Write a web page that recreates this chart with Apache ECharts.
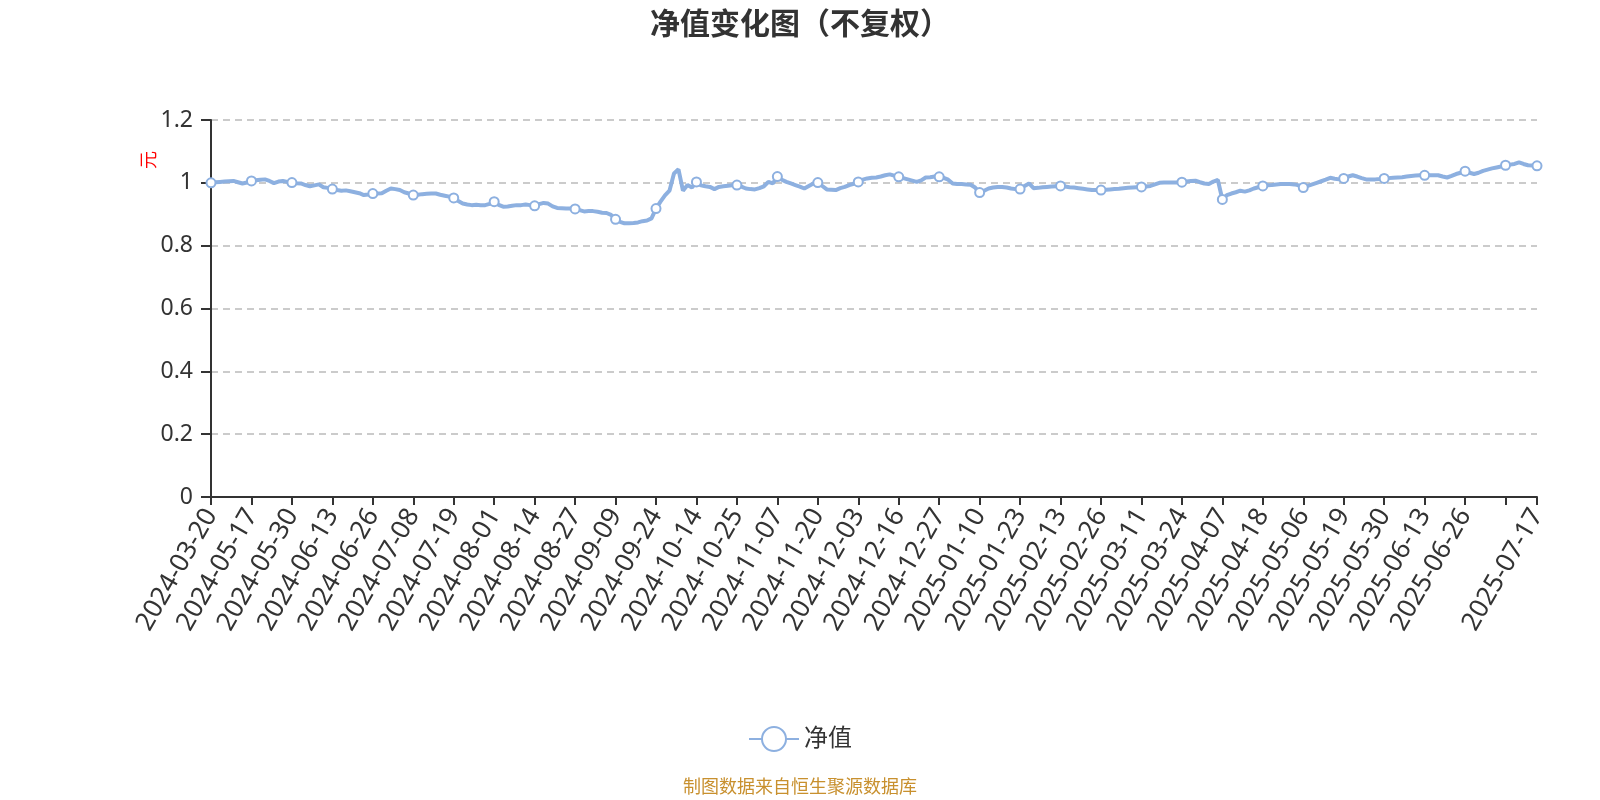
<!DOCTYPE html>
<html><head><meta charset="utf-8">
<script src="https://cdn.jsdelivr.net/npm/echarts@6/dist/echarts.min.js"></script>
<style>html,body{margin:0;padding:0;background:#fff}#c{width:1600px;height:800px}</style>
</head><body><div id="c"></div>
<script>
const dates = [
"2024-03-20","2024-03-29","2024-04-03","2024-04-12","2024-04-19","2024-04-26","2024-04-30","2024-05-10","2024-05-16",
"2024-05-17","2024-05-20","2024-05-21","2024-05-22","2024-05-23","2024-05-24","2024-05-27","2024-05-28","2024-05-29",
"2024-05-30","2024-05-31","2024-06-03","2024-06-04","2024-06-05","2024-06-06","2024-06-07","2024-06-11","2024-06-12",
"2024-06-13","2024-06-14","2024-06-17","2024-06-18","2024-06-19","2024-06-20","2024-06-21","2024-06-24","2024-06-25",
"2024-06-26","2024-06-27","2024-06-28","2024-06-30","2024-07-01","2024-07-02","2024-07-03","2024-07-04","2024-07-05",
"2024-07-08","2024-07-09","2024-07-10","2024-07-11","2024-07-12","2024-07-15","2024-07-16","2024-07-17","2024-07-18",
"2024-07-19","2024-07-22","2024-07-23","2024-07-24","2024-07-25","2024-07-26","2024-07-29","2024-07-30","2024-07-31",
"2024-08-01","2024-08-02","2024-08-05","2024-08-06","2024-08-07","2024-08-08","2024-08-09","2024-08-12","2024-08-13",
"2024-08-14","2024-08-15","2024-08-16","2024-08-19","2024-08-20","2024-08-21","2024-08-22","2024-08-23","2024-08-26",
"2024-08-27","2024-08-28","2024-08-29","2024-08-30","2024-09-02","2024-09-03","2024-09-04","2024-09-05","2024-09-06",
"2024-09-09","2024-09-10","2024-09-11","2024-09-12","2024-09-13","2024-09-18","2024-09-19","2024-09-20","2024-09-23",
"2024-09-24","2024-09-25","2024-09-26","2024-09-27","2024-09-30","2024-10-08","2024-10-09","2024-10-10","2024-10-11",
"2024-10-14","2024-10-15","2024-10-16","2024-10-17","2024-10-18","2024-10-21","2024-10-22","2024-10-23","2024-10-24",
"2024-10-25","2024-10-28","2024-10-29","2024-10-30","2024-10-31","2024-11-01","2024-11-04","2024-11-05","2024-11-06",
"2024-11-07","2024-11-08","2024-11-11","2024-11-12","2024-11-13","2024-11-14","2024-11-15","2024-11-18","2024-11-19",
"2024-11-20","2024-11-21","2024-11-22","2024-11-25","2024-11-26","2024-11-27","2024-11-28","2024-11-29","2024-12-02",
"2024-12-03","2024-12-04","2024-12-05","2024-12-06","2024-12-09","2024-12-10","2024-12-11","2024-12-12","2024-12-13",
"2024-12-16","2024-12-17","2024-12-18","2024-12-19","2024-12-20","2024-12-23","2024-12-24","2024-12-25","2024-12-26",
"2024-12-27","2024-12-30","2024-12-31","2025-01-02","2025-01-03","2025-01-06","2025-01-07","2025-01-08","2025-01-09",
"2025-01-10","2025-01-13","2025-01-14","2025-01-15","2025-01-16","2025-01-17","2025-01-20","2025-01-21","2025-01-22",
"2025-01-23","2025-01-24","2025-01-27","2025-02-05","2025-02-06","2025-02-07","2025-02-10","2025-02-11","2025-02-12",
"2025-02-13","2025-02-14","2025-02-17","2025-02-18","2025-02-19","2025-02-20","2025-02-21","2025-02-24","2025-02-25",
"2025-02-26","2025-02-27","2025-02-28","2025-03-03","2025-03-04","2025-03-05","2025-03-06","2025-03-07","2025-03-10",
"2025-03-11","2025-03-12","2025-03-13","2025-03-14","2025-03-17","2025-03-18","2025-03-19","2025-03-20","2025-03-21",
"2025-03-24","2025-03-25","2025-03-26","2025-03-27","2025-03-28","2025-03-31","2025-04-01","2025-04-02","2025-04-03",
"2025-04-07","2025-04-08","2025-04-09","2025-04-10","2025-04-11","2025-04-14","2025-04-15","2025-04-16","2025-04-17",
"2025-04-18","2025-04-21","2025-04-22","2025-04-23","2025-04-24","2025-04-25","2025-04-28","2025-04-29","2025-04-30",
"2025-05-06","2025-05-07","2025-05-08","2025-05-09","2025-05-12","2025-05-13","2025-05-14","2025-05-15","2025-05-16",
"2025-05-19","2025-05-20","2025-05-21","2025-05-22","2025-05-23","2025-05-26","2025-05-27","2025-05-28","2025-05-29",
"2025-05-30","2025-06-03","2025-06-04","2025-06-05","2025-06-06","2025-06-09","2025-06-10","2025-06-11","2025-06-12",
"2025-06-13","2025-06-16","2025-06-17","2025-06-18","2025-06-19","2025-06-20","2025-06-23","2025-06-24","2025-06-25",
"2025-06-26","2025-06-27","2025-06-28","2025-06-30","2025-07-01","2025-07-02","2025-07-03","2025-07-04","2025-07-07",
"2025-07-08","2025-07-09","2025-07-10","2025-07-11","2025-07-14","2025-07-15","2025-07-16","2025-07-17"
];

const navValues = [
1.000,1.002,1.003,1.004,1.005,1.006,1.002,0.998,1.001,
1.006,1.008,1.010,1.011,1.006,0.999,1.004,1.006,1.003,
1.001,0.999,0.998,0.993,0.989,0.992,0.995,0.986,0.984,
0.980,0.977,0.975,0.976,0.973,0.970,0.967,0.961,0.963,
0.966,0.966,0.967,0.975,0.982,0.980,0.977,0.970,0.966,
0.961,0.962,0.964,0.965,0.966,0.966,0.962,0.959,0.956,
0.952,0.942,0.934,0.931,0.929,0.930,0.929,0.929,0.933,
0.940,0.930,0.924,0.925,0.927,0.929,0.929,0.931,0.929,
0.927,0.932,0.936,0.934,0.925,0.920,0.919,0.918,0.918,
0.917,0.913,0.909,0.910,0.910,0.908,0.905,0.904,0.898,
0.884,0.876,0.871,0.871,0.872,0.874,0.878,0.880,0.887,
0.918,0.940,0.960,0.975,1.030,1.043,0.975,0.993,0.985,
1.003,0.992,0.989,0.987,0.980,0.987,0.989,0.991,0.992,
0.993,0.988,0.982,0.980,0.979,0.983,0.989,1.003,0.998,
1.020,1.010,1.003,0.998,0.993,0.988,0.982,0.990,0.998,
1.001,0.990,0.979,0.978,0.977,0.983,0.987,0.993,0.997,
1.003,1.010,1.014,1.016,1.017,1.020,1.024,1.027,1.023,
1.019,1.015,1.011,1.007,1.003,1.008,1.017,1.018,1.020,
1.019,1.016,1.010,0.998,0.996,0.996,0.995,0.994,0.985,
0.969,0.975,0.982,0.985,0.987,0.987,0.985,0.982,0.980,
0.980,0.990,0.998,0.983,0.984,0.986,0.987,0.988,0.989,
0.990,0.988,0.986,0.985,0.983,0.981,0.979,0.977,0.977,
0.977,0.978,0.979,0.980,0.981,0.983,0.984,0.985,0.986,
0.987,0.988,0.990,0.995,1.000,1.001,1.001,1.001,1.001,
1.002,1.004,1.006,1.007,1.002,0.998,0.996,1.004,1.009,
0.947,0.961,0.966,0.970,0.975,0.972,0.976,0.982,0.986,
0.990,0.992,0.993,0.995,0.996,0.996,0.996,0.995,0.992,
0.985,0.990,0.995,1.000,1.005,1.010,1.016,1.013,1.011,
1.014,1.020,1.024,1.020,1.015,1.011,1.011,1.011,1.012,
1.014,1.015,1.016,1.017,1.018,1.020,1.022,1.023,1.024,
1.024,1.024,1.024,1.024,1.020,1.017,1.022,1.028,1.032,
1.037,1.032,1.028,1.032,1.038,1.042,1.046,1.049,1.052,
1.056,1.058,1.060,1.065,1.060,1.056,1.055,1.054
];

const seriesName = '净值';
const titleText = '净值变化图（不复权）';
const sourceText = '制图数据来自恒生聚源数据库';
const unitText = '元';

const FONT = '"Noto Sans", "Noto Sans CJK SC", sans-serif';
const LINE = '#8DB0E0';
const LABEL_STEP = 9;
const lastIdx = dates.length - 1;
const hiddenIdx = Math.floor(lastIdx / LABEL_STEP) * LABEL_STEP;

const chart = echarts.init(document.getElementById('c'), null, {renderer: 'canvas'});
chart.setOption({
  animation: false,
  backgroundColor: '#fff',
  textStyle: {fontFamily: FONT},
  title: [
    {text: titleText, left: 'center', top: 5,
     textStyle: {fontSize: 30, fontWeight: 'bold', color: '#333', fontFamily: FONT}},
    {text: sourceText, left: 'center', top: 774,
     textStyle: {fontSize: 18, fontWeight: 'normal', color: '#C8902E', fontFamily: FONT}}
  ],
  legend: {
    data: [seriesName], left: 'center', top: 721,
    itemWidth: 50, itemHeight: 30,
    textStyle: {fontSize: 24, color: '#333', fontFamily: FONT}
  },
  grid: {left: 211, right: 63, top: 120, bottom: 303},
  xAxis: {
    type: 'category', data: dates, boundaryGap: false,
    axisLine: {lineStyle: {color: '#333', width: 2}},
    axisTick: {interval: LABEL_STEP - 1, length: 8, lineStyle: {color: '#333', width: 2}},
    axisLabel: {
      interval: LABEL_STEP - 1, showMaxLabel: true,
      formatter: function (value, index) { return index === hiddenIdx ? '' : value; },
      rotate: 60, fontSize: 26, color: '#333', margin: 14, fontFamily: FONT
    },
    splitLine: {show: false}
  },
  yAxis: {
    type: 'value', min: 0, max: 1.2, interval: 0.2,
    axisLine: {show: true, lineStyle: {color: '#333', width: 2}},
    axisTick: {show: true, length: 10, lineStyle: {color: '#333', width: 2}},
    axisLabel: {fontSize: 23, color: '#333', margin: 18, fontFamily: FONT},
    splitLine: {lineStyle: {type: [7, 5], color: '#bbb', width: 1.5}}
  },
  series: [{
    name: seriesName, type: 'line', data: navValues,
    symbol: 'emptyCircle', symbolSize: 9, showAllSymbol: 'auto',
    lineStyle: {width: 4, color: LINE},
    itemStyle: {color: LINE, borderWidth: 2}
  }],
  graphic: [{
    type: 'text', x: 150, y: 160, rotation: Math.PI / 2,
    style: {text: unitText, fill: 'red', fontSize: 18, fontFamily: FONT, align: 'center', verticalAlign: 'middle'}
  }]
});
</script>
</body></html>
